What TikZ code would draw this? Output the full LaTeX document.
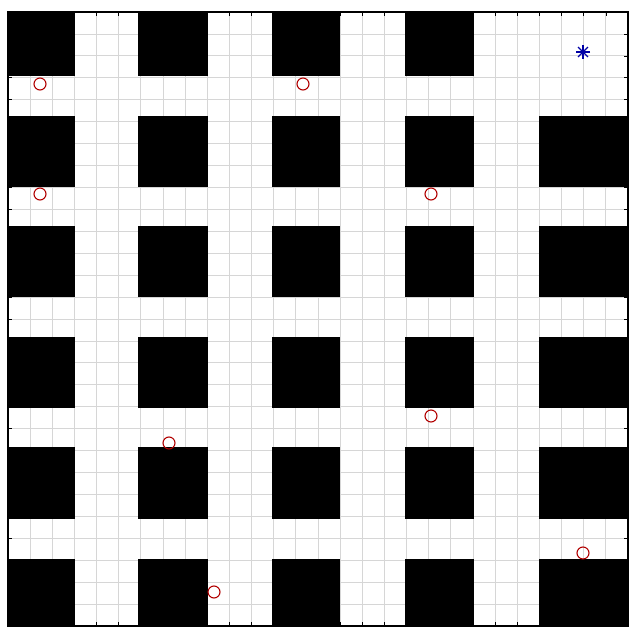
\documentclass[tikz,border=0pt]{standalone}
\usetikzlibrary{calc}
\begin{document}
\begin{tikzpicture}[x=1pt,y=-1pt,
  gridline/.style={draw=black!16, line width=0.8pt},
  block/.style={fill=black},
  obst/.style={circle, draw=red!70!black, line width=1.1pt, minimum size=12pt, inner sep=0pt},
  goalstar/.style={draw=blue!65!black, line width=1.4pt},
  tickmark/.style={draw=black, line width=0.6pt},
  frame/.style={draw=black, line width=1.4pt}]
\useasboundingbox (0,0) rectangle (630,628);
\fill[white] (0,0) rectangle (630,628);
\def\cw{22.1429}\def\ch{21.9286}
% grid
\foreach \i in {1,...,27} {
  \draw[gridline] ({8+\i*\cw},12) -- ({8+\i*\cw},626);
  \draw[gridline] (8,{12+\i*\ch}) -- (628,{12+\i*\ch});
}
% obstacles (black blocks)
\foreach \xa/\xb in {8/75,138/208,272/340,405/474,539/628} {
  \foreach \ya/\yb in {12/76,116/187,226/297,337/408,447/519,559/626} {
    \ifnum\xa=539
      \ifnum\ya=12 \else
        \fill[block] (\xa,\ya) rectangle (\xb,\yb);
      \fi
    \else
      \fill[block] (\xa,\ya) rectangle (\xb,\yb);
    \fi
  }
}
% ticks
\foreach \i in {1,...,27} {
  \draw[tickmark] ({8+\i*\cw},12) -- ({8+\i*\cw},16);
  \draw[tickmark] ({8+\i*\cw},626) -- ({8+\i*\cw},622);
  \draw[tickmark] (8,{12+\i*\ch}) -- (12,{12+\i*\ch});
  \draw[tickmark] (628,{12+\i*\ch}) -- (624,{12+\i*\ch});
}
% frame
\draw[frame] (8,12) rectangle (628,626);
% markers
\node[obst] (m1) at (40,84) {};
\node[obst] (m2) at (303,84) {};
\node[obst] (m3) at (40,194) {};
\node[obst] (m4) at (431,194) {};
\node[obst] (m5) at (431,416) {};
\node[obst] (m6) at (169,443) {};
\node[obst] (m7) at (583,553) {};
\node[obst] (m8) at (214,592) {};
% goal star
\coordinate (g) at (583,52);
\foreach \a in {0,45,90,135} {
  \draw[goalstar] ($(g)+(\a:7)$) -- ($(g)+(\a+180:7)$);
}
\end{tikzpicture}
\end{document}
